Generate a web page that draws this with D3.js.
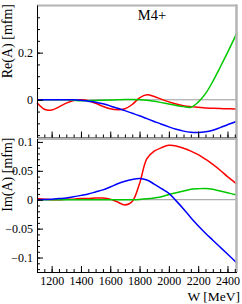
<html>
<head><meta charset="utf-8"></head>
<script src='https://d3js.org/d3.v7.min.js'></script>
<style>
body {margin:0; background:#fff;}
text {font-family:"Liberation Serif", serif; fill:#000;}
.ln {fill:none; stroke-width:1.5;}
</style>
<body onload='init()'>
<svg width=242 height=304></svg>
<script>
// W grid [MeV]
var W = [1100,1150,1200,1250,1300,1350,1400,1450,1500,1550,1600,1650,1700,1750,1800,
         1850,1900,1950,2000,2050,2100,2150,2200,2250,2300,2350,2400,2450,2465];

// Re(A) [mfm]
var reRed   = [-0.013,-0.040,-0.043,-0.030,-0.014,-0.003,0.000,-0.004,-0.015,-0.028,-0.038,-0.042,-0.038,-0.020,0.008,
               0.021,0.014,0.002,-0.009,-0.018,-0.025,-0.029,-0.032,-0.035,-0.036,-0.037,-0.038,-0.039,-0.039];
var reGreen = [0,0,0,0,0,-0.002,-0.004,-0.004,-0.003,-0.002,-0.001,0,0.001,0.001,0,
               -0.002,-0.006,-0.012,-0.018,-0.024,-0.029,-0.032,-0.010,0.026,0.078,0.138,0.200,0.265,0.285];
var reBlue  = [0,0,0,0,0,0,-0.002,-0.006,-0.010,-0.017,-0.026,-0.036,-0.046,-0.057,-0.068,
               -0.080,-0.092,-0.104,-0.115,-0.125,-0.133,-0.138,-0.139,-0.136,-0.129,-0.118,-0.106,-0.094,-0.090];

// Im(A) [mfm]
var imRed   = [0.002,0.001,0.000,0.000,0.001,0.001,0.002,0.002,0.003,0.003,0.001,-0.004,-0.009,-0.003,0.028,
               0.071,0.084,0.090,0.094,0.093,0.089,0.084,0.078,0.070,0.061,0.051,0.040,0.030,0.027];
var imGreen = [0,0,0,0,0,0,0,0,0,0,0,0,0,0,0.0005,
               0.0015,0.003,0.005,0.009,0.012,0.015,0.018,0.019,0.0195,0.018,0.015,0.012,0.009,0.0076];
var imBlue  = [0,0.0003,0.001,0.002,0.003,0.005,0.0075,0.010,0.0135,0.017,0.022,0.0275,0.032,0.035,0.0365,
               0.034,0.027,0.019,0.011,-0.002,-0.016,-0.031,-0.045,-0.058,-0.070,-0.082,-0.094,-0.106,-0.110];

var xTicks = [1200,1400,1600,1800,2000,2200,2400];
var reTicks = [0,0.2];
var imTicks = [-0.1,-0.05,0,0.05,0.1];

function init() {
  var svg = d3.select("svg");
  var left = 37, right = 236;
  var x = d3.scaleLinear().domain([1100,2465]).range([left,right+1]);

  var panels = [
    {top:5.5, bottom:137.5, dom:[-0.16,0.4], major:reTicks, minor:d3.range(-0.15,0.351,0.05),
     series:[[reRed,"#ff0000"],[reGreen,"#00c800"],[reBlue,"#0000ff"]], title:"Re(A) [mfm]", xlab:false},
    {top:139, bottom:272, dom:[-0.125,0.105], major:imTicks, minor:d3.range(-0.12,0.1001,0.01),
     series:[[imRed,"#ff0000"],[imGreen,"#00c800"],[imBlue,"#0000ff"]], title:"Im(A) [mfm]", xlab:true}
  ];

  panels.forEach(function(p) {
    var y = d3.scaleLinear().domain(p.dom).range([p.bottom,p.top]);

    // zero line
    svg.append("line").attr("x1",left).attr("x2",right).attr("y1",y(0)).attr("y2",y(0))
      .attr("stroke","#999").attr("stroke-width",1);

    // curves
    var line = d3.line().x(function(d,i){return x(W[i]);}).y(function(d){return y(d);})
      .curve(d3.curveCatmullRom);
    p.series.forEach(function(s) {
      svg.append("path").datum(s[0]).attr("class","ln").attr("stroke",s[1]).attr("d",line);
    });

    // gray frame top/right
    svg.append("line").attr("x1",left).attr("x2",right+1).attr("y1",p.top).attr("y2",p.top)
      .attr("stroke","#b4b4b4").attr("stroke-width",2);
    svg.append("line").attr("x1",right+0.5).attr("x2",right+0.5).attr("y1",p.top-1).attr("y2",p.bottom)
      .attr("stroke","#b4b4b4").attr("stroke-width",2.5);

    // y axis
    var ya = svg.append("g").attr("transform","translate("+left+",0)")
      .call(d3.axisLeft(y).tickValues(p.minor).tickSizeInner(-3).tickSizeOuter(0).tickFormat(""));
    ya.select(".domain").remove();
    var yb = svg.append("g").attr("transform","translate("+left+",0)")
      .call(d3.axisLeft(y).tickValues(p.major).tickSizeInner(-6).tickSizeOuter(0).tickPadding(4)
        .tickFormat(d3.format("~g")));
    yb.select(".domain").attr("d","M0.5,"+p.top+"V"+p.bottom);
    yb.selectAll("text").style("font-family","Liberation Serif").style("font-size","12px");

    // x axis
    var xa = svg.append("g").attr("transform","translate(0,"+p.bottom+")")
      .call(d3.axisBottom(x).tickValues(d3.range(1100,2451,50)).tickSizeInner(-3).tickSizeOuter(0).tickFormat(""));
    xa.select(".domain").remove();
    var xb = svg.append("g").attr("transform","translate(0,"+p.bottom+")")
      .call(d3.axisBottom(x).tickValues(xTicks).tickSizeInner(-6).tickSizeOuter(0).tickPadding(4)
        .tickFormat(p.xlab ? d3.format("d") : ""));
    xb.select(".domain").attr("d","M"+left+",0.5H"+(right+1));
    xb.selectAll("text").style("font-family","Liberation Serif").style("font-size","12px");

    // title
    svg.append("text").attr("transform","translate(12,"+(p.top-1.5)+") rotate(-90)")
      .attr("text-anchor","end").style("font-size","14px").text(p.title);
  });

  svg.append("text").attr("x",152).attr("y",19.5).attr("text-anchor","middle")
    .style("font-size","14.5px").text("M4+");
  svg.append("text").attr("x",240).attr("y",301).attr("text-anchor","end")
    .style("font-size","13.5px").text("W [MeV]");
}
</script>
</body>
</html>
